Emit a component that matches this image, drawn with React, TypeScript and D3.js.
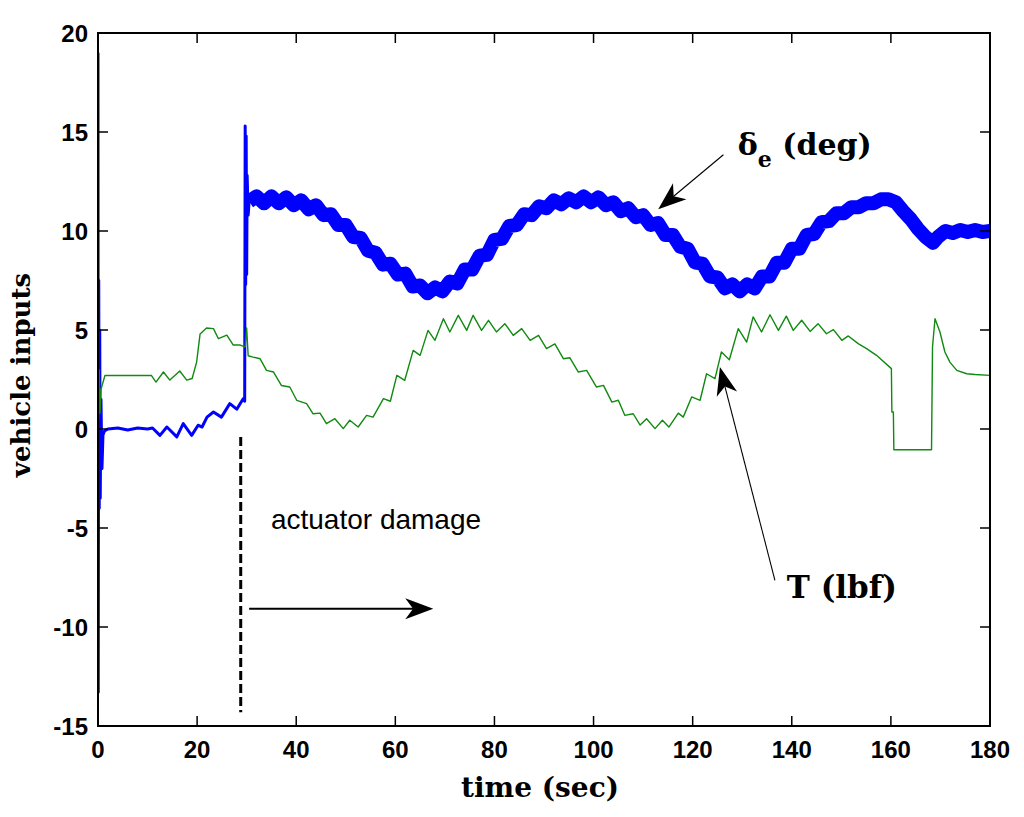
import * as d3 from "d3"

// elevator deflection before the damage (thin trace)
const deltaPreTime = [0, 0.05, 0.15, 0.25, 0.35, 0.45, 0.6, 0.8, 1.0, 1.3, 2, 4, 6, 8, 10, 11, 12.5, 13.9, 15.9, 17.2, 18.9, 20.2, 21, 22, 23.3, 24.9, 26.6, 28, 29.3, 29.6, 29.7, 29.8, 29.9, 30.0, 30.1, 30.3, 30.5]
const deltaPre = [19.0, -13.3, 7.5, -4.0, 5.0, -3.5, 1.5, -2.0, -0.3, -0.1, 0, 0.05, -0.05, 0.05, 0, 0.05, -0.32, 0.1, -0.4, 0.27, -0.32, 0.19, 0.1, 0.6, 0.86, 0.6, 1.28, 1.0, 1.53, 1.4, 15.3, 7.3, 14.8, 7.8, 12.8, 10.8, 11.5]

// elevator deflection after the damage (thick oscillating band)
const deltaPostTime = [30.5, 32, 33.5, 35, 36.5, 38, 39.5, 41, 42.5, 44, 45.5, 47, 48.5, 50, 51.5, 53, 54.5, 56, 57.5, 59, 60.5, 62, 63.5, 65, 66.5, 68, 69.5, 71, 72.5, 74, 75.5, 77, 78.5, 80, 81.5, 83, 84.5, 86, 87.5, 89, 90.5, 92, 93.5, 95, 96.5, 98, 99.5, 101, 102.5, 104, 105.5, 107, 108.5, 110, 111.5, 113, 114.5, 116, 117.5, 119, 120.5, 122, 123.5, 125, 126.5, 128, 129.5, 131, 132.5, 134, 135.5, 137, 138.5, 140, 141.5, 143, 144.5, 146, 147.5, 149, 150.5, 152, 153.5, 155, 156.5, 158, 159.5, 161, 162.5, 164, 165.5, 167, 168.5, 169.5, 171, 172.5, 174, 175.5, 177, 178.5, 180]
const deltaPost = [11.5, 11.75, 11.4, 11.75, 11.4, 11.7, 11.3, 11.55, 11.1, 11.3, 10.8, 10.85, 10.3, 10.3, 9.7, 9.65, 9.0, 8.9, 8.3, 8.35, 7.8, 7.85, 7.2, 7.25, 6.85, 7.15, 6.95, 7.45, 7.35, 8.05, 8.05, 8.75, 8.8, 9.55, 9.6, 10.25, 10.3, 10.85, 10.8, 11.25, 11.15, 11.55, 11.35, 11.65, 11.45, 11.75, 11.45, 11.7, 11.3, 11.45, 11.0, 11.15, 10.7, 10.8, 10.3, 10.4, 9.8, 9.8, 9.2, 9.1, 8.4, 8.35, 7.7, 7.65, 7.1, 7.3, 6.95, 7.3, 7.1, 7.7, 7.7, 8.4, 8.4, 9.1, 9.1, 9.8, 9.85, 10.45, 10.5, 10.9, 10.9, 11.2, 11.2, 11.4, 11.4, 11.6, 11.6, 11.45, 11.0, 10.6, 10.1, 9.7, 9.4, 9.7, 10.0, 9.9, 10.05, 9.95, 10.05, 9.95, 10.0]

// thrust
const thrustTime = [0, 0.1, 0.25, 0.4, 0.6, 1.4, 10.8, 11.7, 13.2, 14.5, 16.5, 17.9, 19.0, 19.9, 20.6, 21.9, 23.3, 24.3, 26, 27.3, 28.6, 29.7, 30, 30.3, 31.3, 32.7, 34, 35.4, 37, 38.7, 40.1, 42.1, 43.4, 44.8, 46.1, 47.8, 49.5, 50.8, 52.5, 54.2, 55.5, 57.6, 59, 60.3, 61.9, 63.6, 65, 66.6, 68, 69.7, 71, 72.7, 74.4, 75.7, 77.4, 78.8, 80.4, 82.1, 83.8, 85.5, 87.2, 88.9, 90.5, 92.2, 93.9, 95.2, 96.9, 98.6, 100.6, 102, 103.7, 105, 106.3, 108, 109.4, 110.7, 112.4, 113.9, 115.2, 117.1, 118.1, 119.8, 121.5, 122.8, 124.5, 125.8, 127.4, 129.2, 130.9, 132.2, 133.9, 135.6, 137.3, 138.9, 140.3, 142, 143.7, 145.3, 147, 148.4, 150.1, 151.4, 153.4, 155.1, 157.1, 160.1, 160.2, 160.5, 160.6, 168.2, 168.4, 168.9, 169.9, 170.9, 171.9, 173.3, 175.3, 177, 180]
const thrust = [5.0, 0.45, 3.0, 0.8, 2.0, 2.7, 2.7, 2.37, 2.88, 2.47, 2.93, 2.47, 2.55, 3.38, 4.8, 5.1, 5.07, 4.56, 4.74, 4.24, 4.25, 4.14, 5.1, 3.7, 3.63, 3.55, 2.96, 2.88, 2.2, 2.12, 1.45, 1.28, 0.77, 0.8, 0.27, 0.52, 0.02, 0.44, 0.1, 0.69, 0.6, 1.53, 1.4, 2.71, 2.46, 3.97, 3.72, 4.98, 4.48, 5.57, 4.9, 5.74, 4.98, 5.74, 4.98, 5.49, 4.9, 5.32, 4.73, 5.07, 4.48, 4.73, 4.06, 4.3, 3.55, 3.6, 2.88, 2.96, 2.12, 2.2, 1.36, 1.45, 0.69, 0.77, 0.2, 0.52, 0.02, 0.44, 0.1, 0.8, 0.6, 1.62, 1.45, 2.79, 2.54, 3.89, 3.5, 5.07, 4.39, 5.66, 4.9, 5.77, 4.98, 5.7, 4.98, 5.49, 4.93, 5.32, 4.81, 5.02, 4.48, 4.7, 4.31, 4.06, 3.72, 3.05, 0.86, 0.86, -1.05, -1.05, 4.14, 5.57, 4.9, 3.89, 3.38, 2.96, 2.79, 2.75, 2.71]

const xTicks = [0, 20, 40, 60, 80, 100, 120, 140, 160, 180]
const yTicks = [-15, -10, -5, 0, 5, 10, 15, 20]

// annotation anchors, in data units
const damageTime = 28.8
const damageSpan = [-0.4, -14.3]
const damageArrow = [[30.5, -9.08], [67.65, -9.08]]
const deltaArrow = [[126.2, 13.85], [113.05, 11.1]]
const thrustArrow = [[136.6, -7.64], [125.5, 3.13]]

const tickFont = "'Liberation Sans', Arial, sans-serif"
const serif = "'DejaVu Serif', serif"

function zip(t: number[], v: number[]): [number, number][] {
  return t.map((d, i) => [d, v[i]])
}

function head(tail: number[], tip: number[], len = 28, wid = 21) {
  const a = Math.atan2(tip[1] - tail[1], tip[0] - tail[0])
  const c = Math.cos(a), s = Math.sin(a)
  const p = (u: number, v: number) => [tip[0] + u * c - v * s, tip[1] + u * s + v * c]
  const pts = [p(0, 0), p(-len, -wid / 2), p(-len * 0.72, 0), p(-len, wid / 2)]
  return { d: "M" + pts.map(q => q.join(",")).join("L") + "Z", notch: pts[2] }
}

export default function App() {
  const x = d3.scaleLinear().domain([0, 180]).range([98, 990])
  const y = d3.scaleLinear().domain([-15, 20]).range([726, 33])
  const line = d3.line<[number, number]>().x(d => x(d[0])).y(d => y(d[1]))

  const [x0, x1] = x.range()
  const [y0, y1] = y.range()

  const arrows = [damageArrow, deltaArrow, thrustArrow].map((a, i) => {
    const tail = [x(a[0][0]), y(a[0][1])]
    const tip = [x(a[1][0]), y(a[1][1])]
    const h = head(tail, tip)
    return { tail, h, width: i === 0 ? 2 : 1.1 }
  })

  return (
    <svg width={1024} height={817} style={{ position: "absolute", left: 0, top: 0, background: "#fff" }}>
      <defs>
        <clipPath id="plot">
          <rect x={x0} y={y1} width={x1 - x0} height={y0 - y1} />
        </clipPath>
      </defs>

      <g clipPath="url(#plot)" fill="none" strokeLinejoin="round">
        <path d={line(zip(deltaPreTime, deltaPre)) ?? ""} stroke="#0000ff" strokeWidth={3} />
        <path d={line(zip(deltaPostTime, deltaPost)) ?? ""} stroke="#0000ff" strokeWidth={14} />
        <path d={line(zip(thrustTime, thrust)) ?? ""} stroke="#108a10" strokeWidth={1.4} />
      </g>

      {/* axes box and inward ticks */}
      <rect x={x0} y={y1} width={x1 - x0} height={y0 - y1} fill="none" stroke="#000" strokeWidth={2} />
      {xTicks.map(t => (
        <g key={"x" + t}>
          <line x1={x(t)} x2={x(t)} y1={y0} y2={y0 - 10} stroke="#000" strokeWidth={1.5} />
          <line x1={x(t)} x2={x(t)} y1={y1} y2={y1 + 10} stroke="#000" strokeWidth={1.5} />
          <text x={x(t)} y={758} textAnchor="middle" fontFamily={tickFont} fontWeight="bold" fontSize={24} fill="#000">{t}</text>
        </g>
      ))}
      {yTicks.map(v => (
        <g key={"y" + v}>
          <line x1={x0} x2={x0 + 10} y1={y(v)} y2={y(v)} stroke="#000" strokeWidth={1.5} />
          <line x1={x1} x2={x1 - 10} y1={y(v)} y2={y(v)} stroke="#000" strokeWidth={1.5} />
          <text x={88} y={y(v) + 8.5} textAnchor="end" fontFamily={tickFont} fontWeight="bold" fontSize={24} fill="#000">{v}</text>
        </g>
      ))}

      <text x={540} y={797} textAnchor="middle" fontFamily={serif} fontWeight="bold" fontSize={28} fill="#000">time (sec)</text>
      <text transform="translate(30,375) rotate(-90)" textAnchor="middle" fontFamily={serif} fontWeight="bold" fontSize={26} fill="#000">vehicle inputs</text>

      {/* damage marker */}
      <line x1={x(damageTime)} x2={x(damageTime)} y1={y(damageSpan[0])} y2={y(damageSpan[1])} stroke="#000" strokeWidth={3} strokeDasharray="9,4" />
      <text x={x(34.9)} y={y(-5.05)} fontFamily={tickFont} fontSize={28} fill="#000">actuator damage</text>

      {arrows.map((a, i) => (
        <g key={"a" + i}>
          <line x1={a.tail[0]} y1={a.tail[1]} x2={a.h.notch[0]} y2={a.h.notch[1]} stroke="#000" strokeWidth={a.width} />
          <path d={a.h.d} fill="#000" />
        </g>
      ))}

      <text x={x(129.1)} y={y(13.84)} fontFamily={serif} fontWeight="bold" fontSize={30} fill="#000">
        δ<tspan fontSize={22} dy={12}>e</tspan><tspan dy={-12}> (deg)</tspan>
      </text>
      <text x={x(139)} y={y(-8.54)} fontFamily={serif} fontWeight="bold" fontSize={31} fill="#000">T (lbf)</text>
    </svg>
  )
}
